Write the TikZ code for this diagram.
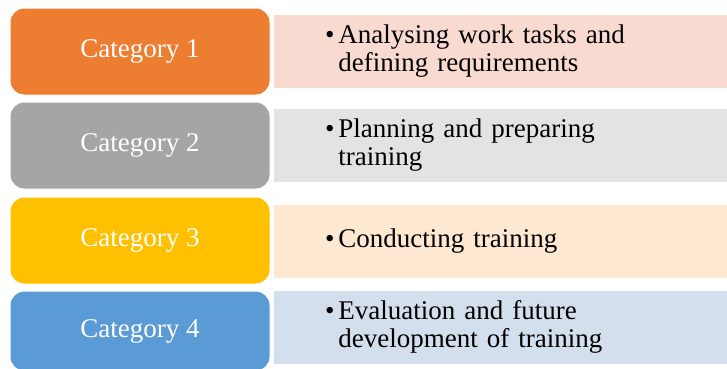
\documentclass[tikz,border=0pt]{standalone}
\usepackage{fontspec}
\setmainfont{Liberation Serif}
\usetikzlibrary{positioning}
\definecolor{catorange}{HTML}{ED7D31}
\definecolor{catorangelight}{HTML}{F9DAD1}
\definecolor{catgray}{HTML}{A5A5A5}
\definecolor{catgraylight}{HTML}{E3E3E3}
\definecolor{catgold}{HTML}{FFC000}
\definecolor{catgoldlight}{HTML}{FEE8D1}
\definecolor{catblue}{HTML}{5B9BD5}
\definecolor{catbluelight}{HTML}{D4DFEE}
% bullet with hanging second line
\newcommand{\bulletlines}[2][0pt]{\raisebox{#1}{\begin{tabular}[c]{@{}l@{\hspace{4pt}}l@{}}\textbullet & #2\end{tabular}}}

\begin{document}
\begin{tikzpicture}[x=1pt, y=-1pt,
      catbox/.style={draw=white, line width=1pt, rounded corners=14pt,
        minimum width=260pt, minimum height=87pt, text=white,
        font=\fontsize{27}{28}\selectfont},
      descbox/.style={draw=white, line width=1pt, inner sep=0pt,
        minimum height=74pt, text width=470pt, align=left,
        font=\fontsize{27}{28}\selectfont}
    ]
      \clip (0,0) rectangle (727,368);
      \node[catbox, fill=catorange] (cat1) at (140,51.5) {Category 1};
      \node[descbox, fill=catorangelight, right=2pt of cat1] (desc1)
        {\noindent\hspace*{52pt}\bulletlines[3pt]{Analysing work tasks and\\ & defining requirements}};
      \node[catbox, fill=catgray] (cat2) at (140,145.5) {Category 2};
      \node[descbox, fill=catgraylight, right=2pt of cat2] (desc2)
        {\noindent\hspace*{52pt}\bulletlines[3pt]{Planning and preparing\\ & training}};
      \node[catbox, fill=catgold] (cat3) at (140,240.5) {Category 3};
      \node[descbox, fill=catgoldlight, right=2pt of cat3, yshift=-1pt] (desc3)
        {\noindent\hspace*{52pt}\bulletlines{Conducting training}};
      \node[catbox, fill=catblue, minimum height=80pt] (cat4) at (140,331) {Category 4};
      \node[descbox, fill=catbluelight, right=2pt of cat4, yshift=3.5pt] (desc4)
        {\noindent\hspace*{52pt}\bulletlines{Evaluation and future\\ & development of training}};
    \end{tikzpicture}
\end{document}
